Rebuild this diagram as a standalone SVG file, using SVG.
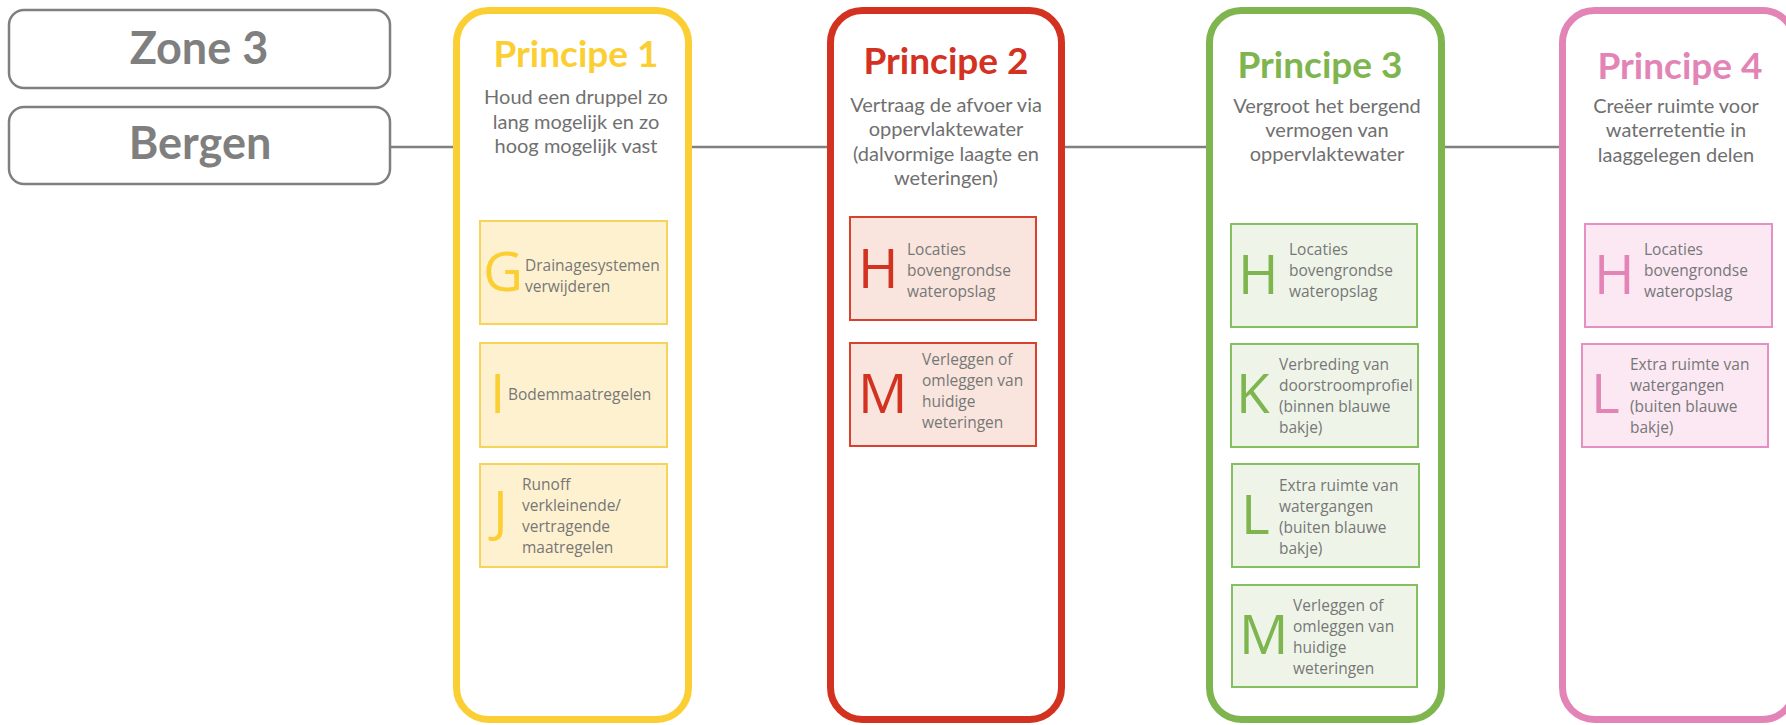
<svg xmlns="http://www.w3.org/2000/svg" width="1786" height="725" viewBox="0 0 1786 725">
<style>
.zone{fill:#fff;stroke:#7f7f7f;stroke-width:2.5}
.ztxt{font-family:Lato,"Liberation Sans",sans-serif;font-weight:700;font-size:45px;fill:#7f7f7f;text-anchor:middle}
.big{fill:#fff;stroke-width:7}
.title{font-family:Lato,"Liberation Sans",sans-serif;font-weight:700;font-size:37px;text-anchor:middle}
.sub{font-family:Lato,"Liberation Sans",sans-serif;font-size:20px;fill:#707070;text-anchor:middle}
.lt{font-family:"Open Sans","Noto Sans",sans-serif;font-size:55px}
.st{font-family:"Open Sans","Noto Sans",sans-serif;font-size:15.5px;fill:#777}
.y .big{stroke:#fbcf33}.y .title,.y .lt{fill:#fbcf33}.y .sb{fill:#fef1cf;stroke:#f6d45a;stroke-width:2}
.r .big{stroke:#d2321f}.r .title,.r .lt{fill:#d2321f}.r .sb{fill:#f9e5dd;stroke:#d6422e;stroke-width:2}
.g .big{stroke:#7eb54e}.g .title,.g .lt{fill:#7eb54e}.g .sb{fill:#eef5e8;stroke:#86bf60;stroke-width:2}
.p .big{stroke:#e384b7}.p .title,.p .lt{fill:#e384b7}.p .sb{fill:#fbe8f3;stroke:#e590c2;stroke-width:2}
.conn{stroke:#808080;stroke-width:2.5;fill:none}
</style>
<g id="connectors">
<line class="conn" x1="390" y1="147" x2="453" y2="147"/>
<line class="conn" x1="692" y1="147" x2="827" y2="147"/>
<line class="conn" x1="1065" y1="147" x2="1206" y2="147"/>
<line class="conn" x1="1445" y1="147" x2="1559" y2="147"/>
</g>
<g id="zone3">
<rect class="zone" x="9" y="10" width="381" height="78" rx="15"/>
<text class="ztxt" x="199" y="64">Zone 3</text>
</g>
<g id="bergen">
<rect class="zone" x="9" y="107" width="381" height="77" rx="15"/>
<text class="ztxt" x="200" y="159">Bergen</text>
</g>
<g id="principe1" class="y">
<rect class="big" x="456.5" y="10.5" width="232" height="709" rx="32"/>
<text class="title" x="576" y="67">Principe 1</text>
<text class="sub" x="576" y="104">Houd een druppel zo</text>
<text class="sub" x="576" y="128.5">lang mogelijk en zo</text>
<text class="sub" x="576" y="153">hoog mogelijk vast</text>
<g id="p1-G">
<rect class="sb" x="480" y="221" width="187" height="103"/>
<text class="lt" x="483" y="291">G</text>
<text class="st" x="525" y="271">Drainagesystemen</text>
<text class="st" x="525" y="292">verwijderen</text>
</g>
<g id="p1-I">
<rect class="sb" x="480" y="343" width="187" height="104"/>
<text class="lt" x="490" y="413">I</text>
<text class="st" x="508" y="400">Bodemmaatregelen</text>
</g>
<g id="p1-J">
<rect class="sb" x="480" y="464" width="187" height="103"/>
<text class="lt" x="493" y="530">J</text>
<text class="st" x="522" y="490">Runoff</text>
<text class="st" x="522" y="511">verkleinende/</text>
<text class="st" x="522" y="532">vertragende</text>
<text class="st" x="522" y="553">maatregelen</text>
</g>
</g>
<g id="principe2" class="r">
<rect class="big" x="830.5" y="10.5" width="231" height="709" rx="32"/>
<text class="title" x="946" y="74">Principe 2</text>
<text class="sub" x="946" y="112">Vertraag de afvoer via</text>
<text class="sub" x="946" y="136">oppervlaktewater</text>
<text class="sub" x="946" y="161">(dalvormige laagte en</text>
<text class="sub" x="946" y="185">weteringen)</text>
<g id="p2-H">
<rect class="sb" x="850" y="217" width="186" height="103"/>
<text class="lt" x="858" y="288">H</text>
<text class="st" x="907" y="255">Locaties</text>
<text class="st" x="907" y="276">bovengrondse</text>
<text class="st" x="907" y="297">wateropslag</text>
</g>
<g id="p2-M">
<rect class="sb" x="850" y="343" width="186" height="103"/>
<text class="lt" x="858" y="413">M</text>
<text class="st" x="922" y="365">Verleggen of</text>
<text class="st" x="922" y="386">omleggen van</text>
<text class="st" x="922" y="407">huidige</text>
<text class="st" x="922" y="428">weteringen</text>
</g>
</g>
<g id="principe3" class="g">
<rect class="big" x="1209.5" y="10.5" width="232" height="709" rx="32"/>
<text class="title" x="1320" y="78">Principe 3</text>
<text class="sub" x="1327" y="113">Vergroot het bergend</text>
<text class="sub" x="1327" y="136.5">vermogen van</text>
<text class="sub" x="1327" y="161">oppervlaktewater</text>
<g id="p3-H">
<rect class="sb" x="1231" y="224" width="186" height="103"/>
<text class="lt" x="1238" y="294">H</text>
<text class="st" x="1289" y="255">Locaties</text>
<text class="st" x="1289" y="276">bovengrondse</text>
<text class="st" x="1289" y="297">wateropslag</text>
</g>
<g id="p3-K">
<rect class="sb" x="1231" y="344" width="187" height="103"/>
<text class="lt" x="1236" y="413">K</text>
<text class="st" x="1279" y="370">Verbreding van</text>
<text class="st" x="1279" y="391">doorstroomprofiel</text>
<text class="st" x="1279" y="412">(binnen blauwe</text>
<text class="st" x="1279" y="433">bakje)</text>
</g>
<g id="p3-L">
<rect class="sb" x="1232" y="464" width="187" height="103"/>
<text class="lt" x="1241" y="534">L</text>
<text class="st" x="1279" y="491">Extra ruimte van</text>
<text class="st" x="1279" y="512">watergangen</text>
<text class="st" x="1279" y="533">(buiten blauwe</text>
<text class="st" x="1279" y="554">bakje)</text>
</g>
<g id="p3-M">
<rect class="sb" x="1232" y="585" width="185" height="102"/>
<text class="lt" x="1239" y="654">M</text>
<text class="st" x="1293" y="611">Verleggen of</text>
<text class="st" x="1293" y="632">omleggen van</text>
<text class="st" x="1293" y="653">huidige</text>
<text class="st" x="1293" y="674">weteringen</text>
</g>
</g>
<g id="principe4" class="p">
<rect class="big" x="1562.5" y="10.5" width="232" height="709" rx="32"/>
<text class="title" x="1680" y="79">Principe 4</text>
<text class="sub" x="1676" y="113">Creëer ruimte voor</text>
<text class="sub" x="1676" y="137">waterretentie in</text>
<text class="sub" x="1676" y="162">laaggelegen delen</text>
<g id="p4-H">
<rect class="sb" x="1585" y="224" width="187" height="103"/>
<text class="lt" x="1594" y="294">H</text>
<text class="st" x="1644" y="255">Locaties</text>
<text class="st" x="1644" y="276">bovengrondse</text>
<text class="st" x="1644" y="297">wateropslag</text>
</g>
<g id="p4-L">
<rect class="sb" x="1582" y="344" width="186" height="103"/>
<text class="lt" x="1591" y="413">L</text>
<text class="st" x="1630" y="370">Extra ruimte van</text>
<text class="st" x="1630" y="391">watergangen</text>
<text class="st" x="1630" y="412">(buiten blauwe</text>
<text class="st" x="1630" y="433">bakje)</text>
</g>
</g>
</svg>
